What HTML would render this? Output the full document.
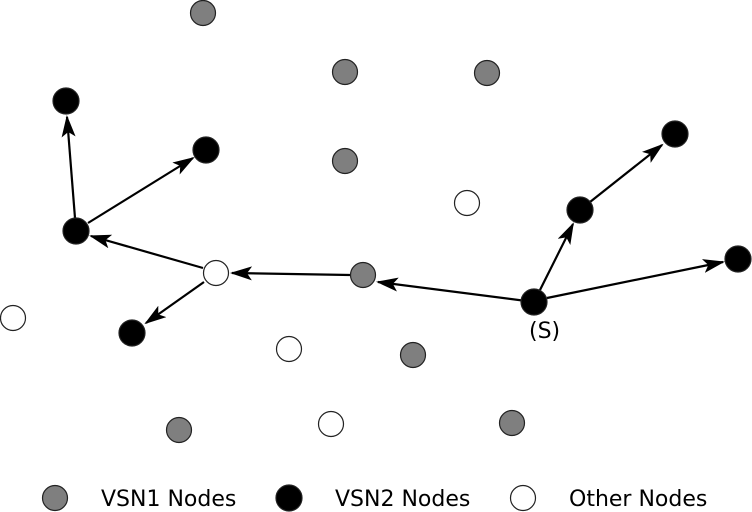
<!DOCTYPE html>
<html><head><style>body{margin:0;background:#fff}svg{display:block}</style></head><body>
<svg width="752" height="512" xmlns="http://www.w3.org/2000/svg">
<defs>
<marker id="b" markerWidth="22" markerHeight="14" refX="20" refY="7" orient="auto" markerUnits="userSpaceOnUse" viewBox="0 0 22 14"><path d="M0,0 L22,7 L0,14 L5,7 z" fill="#000"/></marker></defs>
<g stroke="#000" stroke-width="2.2" fill="none" marker-end="url(#b)">
<line x1="534" y1="302" x2="378" y2="282"/>
<line x1="350" y1="275" x2="232" y2="273"/>
<line x1="203" y1="268" x2="91" y2="236"/>
<line x1="204" y1="282" x2="146" y2="323"/>
<line x1="75" y1="218" x2="67" y2="117"/>
<line x1="88" y1="223" x2="193" y2="158"/>
<line x1="540" y1="290" x2="573" y2="224"/>
<line x1="590" y1="202" x2="662" y2="145"/>
<line x1="547" y1="298" x2="723" y2="262"/>
</g>
<g stroke="#222" stroke-width="1.2">
<g fill="#7f7f7f">
<circle cx="203" cy="13" r="12.5"/><circle cx="345" cy="72" r="12.5"/><circle cx="487" cy="73" r="12.5"/><circle cx="345" cy="161" r="12.5"/><circle cx="363" cy="275" r="12.5"/><circle cx="413" cy="355" r="12.5"/><circle cx="179" cy="430" r="12.5"/><circle cx="512" cy="423" r="12.5"/><circle cx="55" cy="498" r="12.5"/>
</g>
<g fill="#000">
<circle cx="66" cy="101" r="13"/><circle cx="206" cy="150" r="13"/><circle cx="675" cy="134" r="13"/><circle cx="76" cy="231" r="13"/><circle cx="580" cy="210" r="13"/><circle cx="738" cy="259" r="13"/><circle cx="534" cy="302" r="13"/><circle cx="132" cy="333" r="13"/><circle cx="289" cy="498" r="13"/>
</g>
<g fill="#fff">
<circle cx="467" cy="203" r="12.5"/><circle cx="216" cy="273" r="12.5"/><circle cx="13" cy="318" r="12.5"/><circle cx="289" cy="349" r="12.5"/><circle cx="331" cy="424" r="12.5"/><circle cx="523" cy="498" r="12.5"/>
</g></g>
<g font-family="DejaVu Sans, Liberation Sans, sans-serif" font-size="22" fill="#000">
<text x="529" y="338">(S)</text>
<text x="101" y="506">VSN1 Nodes</text>
<text x="335" y="506">VSN2 Nodes</text>
<text x="569" y="506">Other Nodes</text>
</g>
</svg>
</body></html>
